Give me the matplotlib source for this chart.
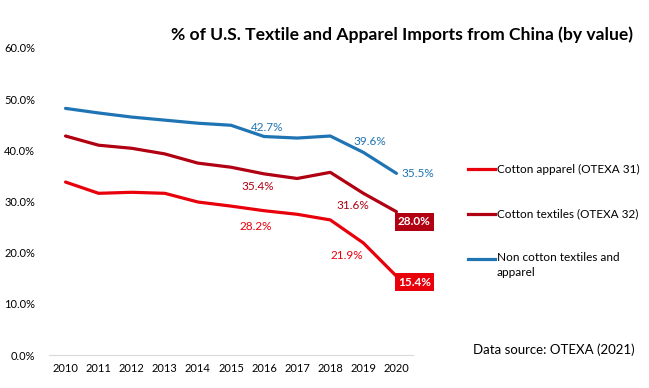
import numpy as np
import matplotlib.pyplot as plt
from matplotlib.lines import Line2D

plt.rcParams['font.family'] = ['Lato', 'DejaVu Sans']

years = list(range(2010, 2021))
apparel = [33.8, 31.6, 31.8, 31.6, 29.9, 29.1, 28.2, 27.5, 26.4, 21.9, 15.4]
textiles = [42.8, 41.0, 40.4, 39.3, 37.5, 36.7, 35.4, 34.5, 35.7, 31.6, 28.0]
non_cotton = [48.2, 47.3, 46.5, 45.9, 45.3, 44.9, 42.7, 42.4, 42.8, 39.6, 35.5]

names = ['Cotton apparel (OTEXA 31)', 'Cotton textiles (OTEXA 32)',
         'Non cotton textiles and\napparel']
colors = ['#E8000B', '#B00012', '#1F74B4']

fig = plt.figure(figsize=(6.49, 3.88), dpi=100)
ax = fig.add_axes([49/649, 1-355/388, 364/649, (355-48)/388])

for vals, c in zip([apparel, textiles, non_cotton], colors):
    ax.plot(years, vals, color=c, lw=2.3, solid_capstyle='round')

ax.set_xlim(2009.5, 2020.5)
ax.set_ylim(0, 60)
ax.set_xticks(years)
ax.set_xticklabels([str(y) for y in years], fontsize=8)
ax.set_yticks(np.arange(0, 61, 10))
ax.set_yticklabels(['%.1f%%' % v for v in np.arange(0, 61, 10)], fontsize=8)
ax.tick_params(length=0, pad=6)
ax.tick_params(axis='y', pad=10)
for s in ['top', 'right', 'left']:
    ax.spines[s].set_visible(False)
ax.spines['bottom'].set_color('#D9D9D9')

px = 0.72  # points per pixel

def lab(x, y, c, dx, dy, ha='center', box=False):
    kw = dict(textcoords='offset points', ha=ha, va='center', fontsize=8.5)
    if box:
        ax.annotate('%.1f%%' % y, (x, y), xytext=(dx*px, dy*px), color='white',
                    fontweight='bold',
                    bbox=dict(boxstyle='square,pad=0.28', fc=c, ec='none'), **kw)
    else:
        ax.annotate('%.1f%%' % y, (x, y), xytext=(dx*px, dy*px), color=c, **kw)

lab(2016, non_cotton[6], colors[2], 3, 9)
lab(2019, non_cotton[9], colors[2], 6, 11)
lab(2020, non_cotton[10], colors[2], 5, 0, ha='left')
lab(2016, textiles[6], colors[1], -6, -13)
lab(2019, textiles[9], colors[1], -11, -12)
lab(2020, textiles[10], colors[1], 18, -10, box=True)
lab(2016, apparel[6], colors[0], -8, -16)
lab(2019, apparel[9], colors[0], -17, -13)
lab(2020, apparel[10], colors[0], 18, -6, box=True)

# legend, drawn by hand to match the spacing
for i, (n, c) in enumerate(zip(names, colors)):
    yy = 1 - (169 + 45*i) / 388
    fig.add_artist(Line2D([468/649, 495/649], [yy, yy], color=c, lw=2.3,
                          transform=fig.transFigure))
    if '\n' in n:
        fig.text(497/649, yy + 7/388, n, fontsize=8.5, va='top', ha='left',
                 linespacing=1.4)
    else:
        fig.text(497/649, yy, n, fontsize=8.5, va='center', ha='left')

fig.text(402/649, 1-35/388, '% of U.S. Textile and Apparel Imports from China (by value)',
         fontsize=12.6, fontweight='bold', ha='center', va='center')
fig.text(473/649, 1-350/388, 'Data source: OTEXA (2021)', fontsize=9.5,
         ha='left', va='center')

fig.savefig('out.png', dpi=100)
